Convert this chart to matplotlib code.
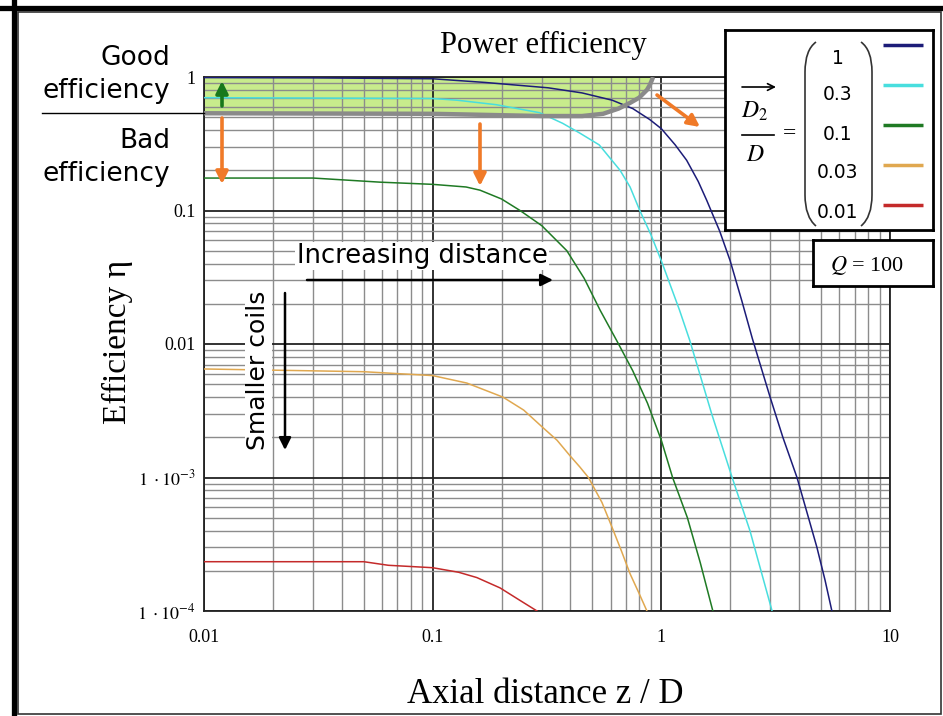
import matplotlib
matplotlib.use("Agg")
import matplotlib.pyplot as plt
from matplotlib.patches import Rectangle, PathPatch
from matplotlib.path import Path
from matplotlib.lines import Line2D

plt.rcParams['mathtext.fontset'] = 'stix'

# curves: axial distance z/D vs efficiency
x_d1 = [0.01, 0.03, 0.1, 0.17, 0.32, 0.45, 0.61, 0.75, 0.89, 1.0, 1.15, 1.29, 1.45, 1.58, 1.8, 2.0, 2.25,
        2.5, 2.99, 3.4, 3.92, 4.4, 4.79, 5.2, 5.57]
y_d1 = [0.99, 0.985, 0.97, 0.91, 0.83, 0.76, 0.67, 0.58, 0.48, 0.41, 0.31, 0.238, 0.165, 0.119, 0.07, 0.042,
        0.021, 0.011, 0.0040, 0.0020, 0.001, 0.0005, 0.0003, 0.00017, 0.0001]

x_d03 = [0.01, 0.1, 0.128, 0.19, 0.294, 0.37, 0.44, 0.535, 0.66, 0.73, 0.805, 0.9, 1.0, 1.2, 1.33, 1.48,
         1.66, 2.04, 2.44, 3.05]
y_d03 = [0.70, 0.69, 0.67, 0.62, 0.54, 0.45, 0.38, 0.31, 0.2, 0.15, 0.1, 0.066, 0.042, 0.018, 0.0107, 0.0058,
         0.003, 0.001, 0.0004, 0.0001]

x_d01 = [0.01, 0.03, 0.059, 0.1, 0.14, 0.161, 0.2, 0.241, 0.3, 0.386, 0.46, 0.54, 0.64, 0.75, 0.87, 1.0,
         1.12, 1.3, 1.48, 1.68]
y_d01 = [0.175, 0.175, 0.163, 0.157, 0.15, 0.142, 0.122, 0.1, 0.077, 0.05, 0.031, 0.0179, 0.0105, 0.0063,
         0.0036, 0.0019, 0.001, 0.0005, 0.00023, 0.0001]

x_d003 = [0.01, 0.05, 0.1, 0.141, 0.203, 0.25, 0.303, 0.35, 0.398, 0.44, 0.48, 0.55, 0.61, 0.67, 0.73, 0.8,
          0.865]
y_d003 = [0.0065, 0.0062, 0.0058, 0.0051, 0.0040, 0.0032, 0.00237, 0.0019, 0.00146, 0.0012, 0.001, 0.00065,
          0.00042, 0.00028, 0.00019, 0.000135, 0.0001]

x_d001 = [0.01, 0.05, 0.064, 0.1, 0.13, 0.156, 0.197, 0.241, 0.286]
y_d001 = [2.34e-4, 2.34e-4, 2.2e-4, 2.11e-4, 1.95e-4, 1.78e-4, 1.49e-4, 1.2e-4, 1.0e-4]

# border of the "good efficiency" zone
x_good = [0.01, 0.1, 0.3, 0.45, 0.556, 0.65, 0.73, 0.8, 0.865, 0.89, 0.91, 0.92]
y_good = [0.535, 0.53, 0.51, 0.51, 0.53, 0.58, 0.64, 0.70, 0.80, 0.87, 0.95, 1.0]

ratios = ['1', '0.3', '0.1', '0.03', '0.01']
colors = ['#1c1c78', '#48dede', '#1f7a24', '#e0a850', '#c42a2a']
series_x = [x_d1, x_d03, x_d01, x_d003, x_d001]
series_y = [y_d1, y_d03, y_d01, y_d003, y_d001]

xticks = [0.01, 0.1, 1, 10]
xticklabels = ['0.01', '0.1', '1', '10']
yticks = [1e-4, 1e-3, 0.01, 0.1, 1]
yticklabels = [r'$1\ \cdot 10^{-4}$', r'$1\ \cdot 10^{-3}$', '0.01', '0.1', '1']

W, H = 943, 716
fig = plt.figure(figsize=(W / 100, H / 100), dpi=100)
fig.patch.set_facecolor('white')


def fx(px):
    return px / W


def fy(py):
    return 1 - py / H


ax = fig.add_axes([fx(204), fy(611), fx(890) - fx(204), fy(77) - fy(611)])
ax.set_xscale('log')
ax.set_yscale('log')
ax.set_xlim(0.01, 10)
ax.set_ylim(1e-4, 1)

ax.fill_between(x_good, y_good, 1, color='#c8ec8c', lw=0, zorder=1)
ax.plot(x_good, y_good, color='#8a8a8a', lw=3.2, zorder=4, solid_capstyle='butt')

for xs, ys, c in zip(series_x, series_y, colors):
    ax.plot(xs, ys, color=c, lw=1.1, zorder=3)

ax.grid(True, which='major', color='#222222', lw=1.3)
ax.grid(True, which='minor', color='#8c8c8c', lw=1.0)
ax.tick_params(which='both', length=0)
ax.set_xticks(xticks, labels=xticklabels, family='Liberation Serif', fontsize=13)
ax.set_yticks(yticks, labels=yticklabels, family='Liberation Serif', fontsize=13)
ax.tick_params(axis='x', pad=13)
ax.tick_params(axis='y', pad=6)
for s in ax.spines.values():
    s.set_color('#222222')
    s.set_linewidth(1.3)

ax.set_xlabel('Axial distance z / D', family='Liberation Serif', fontsize=25)
ax.xaxis.set_label_coords(0.497, -0.125)
ax.set_ylabel('Efficiency η', family='Liberation Serif', fontsize=24)
ax.yaxis.set_label_coords(-0.103, 0.504)


def afx(px):
    return (px - 204) / 686


def afy(py):
    return (611 - py) / 534


def arrow(p0, p1, color, lw, ms):
    ax.annotate('', xy=(afx(p1[0]), afy(p1[1])), xytext=(afx(p0[0]), afy(p0[1])),
                xycoords='axes fraction', textcoords='axes fraction',
                arrowprops=dict(arrowstyle='-|>', color=color, lw=lw, mutation_scale=18,
                                shrinkA=0, shrinkB=0), zorder=6)


arrow((222, 106), (222, 81), '#18781c', 2.6, 18)
arrow((222, 118), (222, 184), '#f07a28', 2.6, 18)
arrow((480, 124), (480, 186), '#f07a28', 2.6, 18)
arrow((657, 95), (700, 127), '#f07a28', 2.6, 18)
arrow((307, 280), (553, 280), 'black', 1.8, 18)
arrow((285, 293), (285, 450), 'black', 1.8, 18)

ax.text(afx(422), afy(263), 'Increasing distance', transform=ax.transAxes, family='DejaVu Sans',
        fontsize=18.5, ha='center', va='baseline', zorder=5,
        bbox=dict(facecolor='white', edgecolor='none', pad=1))
ax.text(afx(258), afy(370), 'Smaller coils', transform=ax.transAxes, family='DejaVu Sans',
        fontsize=18, ha='center', va='center', rotation=90, zorder=5,
        bbox=dict(facecolor='white', edgecolor='none', pad=1))

# labels on the left
fig.text(fx(170), fy(65), 'Good', family='DejaVu Sans', fontsize=19, ha='right', va='baseline')
fig.text(fx(170), fy(98), 'efficiency', family='DejaVu Sans', fontsize=19, ha='right', va='baseline')
fig.text(fx(170), fy(148), 'Bad', family='DejaVu Sans', fontsize=19, ha='right', va='baseline')
fig.text(fx(170), fy(181), 'efficiency', family='DejaVu Sans', fontsize=19, ha='right', va='baseline')
fig.add_artist(Line2D([fx(42), fx(204)], [fy(113), fy(113)], color='black', lw=1.0))

fig.text(fx(543), fy(45), 'Power efficiency', family='Liberation Serif', fontsize=22,
         ha='center', va='center')

# legend box
lg = fig.add_axes([fx(725), fy(230), fx(933) - fx(725), fy(30) - fy(230)])
lg.set_xlim(0, 208)
lg.set_ylim(200, 0)
lg.set_xticks([])
lg.set_yticks([])
lg.set_facecolor('white')
for s in lg.spines.values():
    s.set_linewidth(2)
    s.set_color('black')
row_y = [15, 55, 95, 135, 175]
num_y = [28, 65, 104, 143, 182]
for r, c, yl, yn in zip(ratios, colors, row_y, num_y):
    lg.plot([158, 198], [yl, yl], color=c, lw=2.5, solid_capstyle='butt')
    lg.text(113, yn, r, family='DejaVu Sans', fontsize=13.5, ha='center', va='center')
lpar = Path([(91, 12), (80, 20), (80, 42), (80, 103), (80, 165), (80, 187), (91, 196)],
            [Path.MOVETO, Path.CURVE3, Path.CURVE3, Path.LINETO, Path.LINETO, Path.CURVE3, Path.CURVE3])
rpar = Path([(136, 12), (147, 20), (147, 42), (147, 103), (147, 165), (147, 187), (136, 196)],
            [Path.MOVETO, Path.CURVE3, Path.CURVE3, Path.LINETO, Path.LINETO, Path.CURVE3, Path.CURVE3])
for p in (lpar, rpar):
    lg.add_patch(PathPatch(p, facecolor='none', edgecolor='#333333', lw=1.2))
lg.annotate('', xy=(51, 57), xytext=(17, 57), xycoords='data',
            arrowprops=dict(arrowstyle='->', color='black', lw=1.2, mutation_scale=12, shrinkA=0, shrinkB=0))
lg.text(30, 81, r'$D_2$', fontsize=17, ha='center', va='center')
lg.plot([17, 49], [105, 105], color='black', lw=1.2)
lg.text(30, 124, r'$D$', fontsize=17, ha='center', va='center')
lg.text(64, 104, '=', family='Liberation Serif', fontsize=17, ha='center', va='center')

# Q box
qb = fig.add_axes([fx(813), fy(286), fx(933) - fx(813), fy(240) - fy(286)])
qb.set_xticks([])
qb.set_yticks([])
qb.set_facecolor('white')
for s in qb.spines.values():
    s.set_linewidth(2)
    s.set_color('black')
qb.text(0.45, 0.45, r'$Q$ = 100', family='Liberation Serif', fontsize=16,
        ha='center', va='center', transform=qb.transAxes)

# frame around the picture
fig.add_artist(Line2D([fx(13.5), fx(13.5)], [0, 1], color='black', lw=3.8))
fig.add_artist(Line2D([0, 1], [fy(7.5), fy(7.5)], color='black', lw=3.8))
fig.add_artist(Rectangle((fx(18), fy(714)), fx(941) - fx(18), fy(12) - fy(714),
                         transform=fig.transFigure, fill=False, edgecolor='#333333', lw=1.2))

fig.savefig('out.png', dpi=100)
